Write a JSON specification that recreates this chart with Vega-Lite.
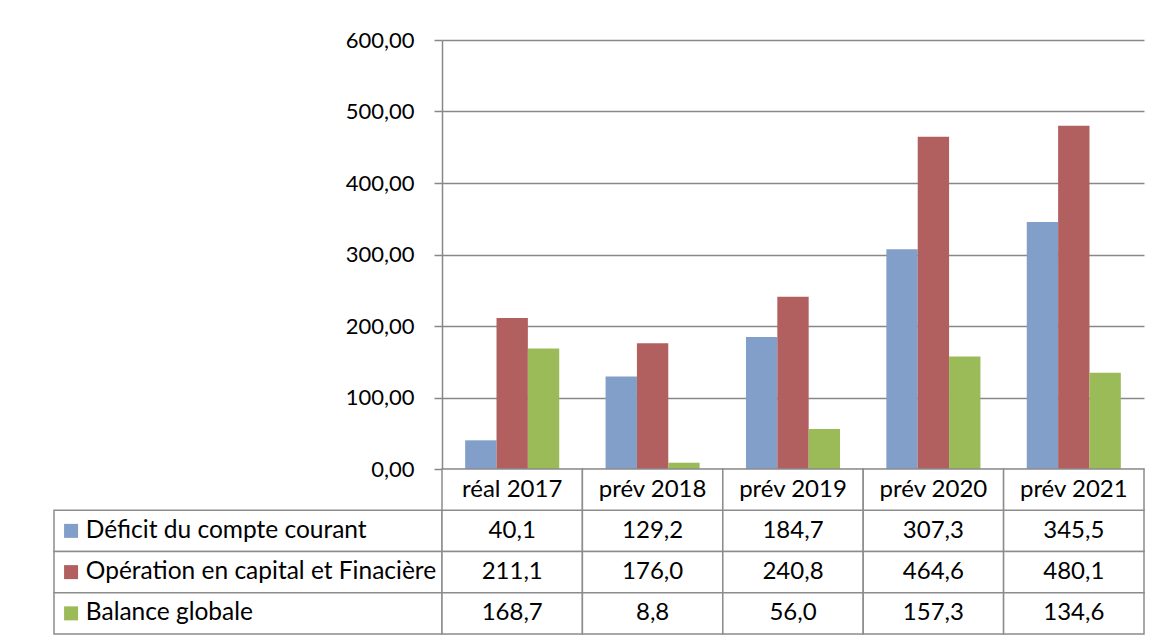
{
  "$schema": "https://vega.github.io/schema/vega-lite/v6.json",
  "padding": {"left": 53, "top": 29, "right": 0, "bottom": 0},
  "spacing": 0,
  "bounds": "flush",
  "columns": 2,
  "config": {
    "locale": {"number": {"decimal": ",", "thousands": " ", "grouping": [3], "currency": ["", " €"]}},
    "font": "Lato",
    "view": {"stroke": null},
    "text": {"font": "Lato", "fontSize": 24, "color": "#000000"}
  },
  "datasets": {
    "d": [
      {"year": "réal 2017", "series": "Déficit du compte courant", "value": 40.1},
      {"year": "réal 2017", "series": "Opération en capital et Finacière", "value": 211.1},
      {"year": "réal 2017", "series": "Balance globale", "value": 168.7},
      {"year": "prév 2018", "series": "Déficit du compte courant", "value": 129.2},
      {"year": "prév 2018", "series": "Opération en capital et Finacière", "value": 176.0},
      {"year": "prév 2018", "series": "Balance globale", "value": 8.8},
      {"year": "prév 2019", "series": "Déficit du compte courant", "value": 184.7},
      {"year": "prév 2019", "series": "Opération en capital et Finacière", "value": 240.8},
      {"year": "prév 2019", "series": "Balance globale", "value": 56.0},
      {"year": "prév 2020", "series": "Déficit du compte courant", "value": 307.3},
      {"year": "prév 2020", "series": "Opération en capital et Finacière", "value": 464.6},
      {"year": "prév 2020", "series": "Balance globale", "value": 157.3},
      {"year": "prév 2021", "series": "Déficit du compte courant", "value": 345.5},
      {"year": "prév 2021", "series": "Opération en capital et Finacière", "value": 480.1},
      {"year": "prév 2021", "series": "Balance globale", "value": 134.6}
    ],
    "s": [
      {"series": "Déficit du compte courant"},
      {"series": "Opération en capital et Finacière"},
      {"series": "Balance globale"}
    ]
  },
  "concat": [
    {
      "width": 388,
      "height": 429,
      "data": {"name": "s"},
      "mark": {"type": "point", "opacity": 0}
    },
    {
      "width": 702,
      "height": 429,
      "data": {"name": "d"},
      "mark": {"type": "bar"},
      "encoding": {
        "x": {"field": "year", "type": "nominal", "sort": null, "scale": {"paddingInner": 0.33, "paddingOuter": 0.165}, "axis": null},
        "xOffset": {"field": "series", "type": "nominal", "sort": ["Déficit du compte courant", "Opération en capital et Finacière", "Balance globale"], "scale": {"paddingInner": 0, "paddingOuter": 0}},
        "y": {
          "field": "value", "type": "quantitative",
          "scale": {"domain": [0, 600]},
          "axis": {
            "values": [0, 100, 200, 300, 400, 500, 600], "format": ".2f", "title": null,
            "grid": true, "gridColor": "#888888", "gridWidth": 1.5,
            "domainColor": "#888888", "domainWidth": 1.5,
            "tickColor": "#888888", "tickSize": 8, "tickWidth": 1.5,
            "labelFont": "Lato", "labelFontSize": 22, "labelColor": "#000000", "labelPadding": 20
          }
        },
        "color": {
          "field": "series", "type": "nominal",
          "scale": {"domain": ["Déficit du compte courant", "Opération en capital et Finacière", "Balance globale"], "range": ["#819fc8", "#b25f5f", "#9bbb59"]},
          "legend": null
        }
      }
    },
    {
      "width": 388,
      "height": 165,
      "data": {"name": "s"},
      "encoding": {
        "y": {"field": "series", "type": "nominal", "scale": {"domain": ["hdr", "Déficit du compte courant", "Opération en capital et Finacière", "Balance globale"], "paddingInner": 0, "paddingOuter": 0}, "axis": null}
      },
      "layer": [
        {
          "mark": {"type": "rect", "fill": "#ffffff", "stroke": "#8c8c8c", "strokeWidth": 1.5},
          "encoding": {
            "x": {"datum": 0, "type": "quantitative", "scale": {"domain": [0, 1]}, "axis": null},
            "x2": {"datum": 1}
          }
        },
        {
          "mark": {"type": "square", "size": 196, "filled": true, "opacity": 1},
          "encoding": {
            "x": {"datum": 0.044, "type": "quantitative"},
            "color": {"field": "series", "type": "nominal", "legend": null}
          }
        },
        {
          "mark": {"type": "text", "align": "left", "baseline": "middle", "fontSize": 24.5},
          "encoding": {
            "x": {"datum": 0.082, "type": "quantitative"},
            "text": {"field": "series", "type": "nominal"}
          }
        }
      ]
    },
    {
      "width": 702,
      "height": 165,
      "data": {"name": "d"},
      "encoding": {
        "x": {"field": "year", "type": "nominal", "sort": null, "scale": {"paddingInner": 0, "paddingOuter": 0}, "axis": null}
      },
      "layer": [
        {
          "mark": {"type": "rect", "fill": "#ffffff", "stroke": "#8c8c8c", "strokeWidth": 1.5},
          "encoding": {
            "y": {"field": "series", "type": "nominal", "scale": {"domain": ["hdr", "Déficit du compte courant", "Opération en capital et Finacière", "Balance globale"], "paddingInner": 0, "paddingOuter": 0}, "axis": null}
          }
        },
        {
          "mark": {"type": "text", "baseline": "middle", "fontSize": 24},
          "encoding": {
            "y": {"field": "series", "type": "nominal"},
            "text": {"field": "value", "type": "quantitative", "format": ".1f"}
          }
        },
        {
          "transform": [{"filter": "datum.series === 'Balance globale'"}],
          "mark": {"type": "rect", "fill": "#ffffff", "stroke": "#8c8c8c", "strokeWidth": 1.5},
          "encoding": {
            "y": {"datum": "hdr", "type": "nominal"}
          }
        },
        {
          "transform": [{"filter": "datum.series === 'Balance globale'"}],
          "mark": {"type": "text", "baseline": "middle", "fontSize": 24},
          "encoding": {
            "y": {"datum": "hdr", "type": "nominal"},
            "text": {"field": "year", "type": "nominal"}
          }
        }
      ]
    }
  ]
}
